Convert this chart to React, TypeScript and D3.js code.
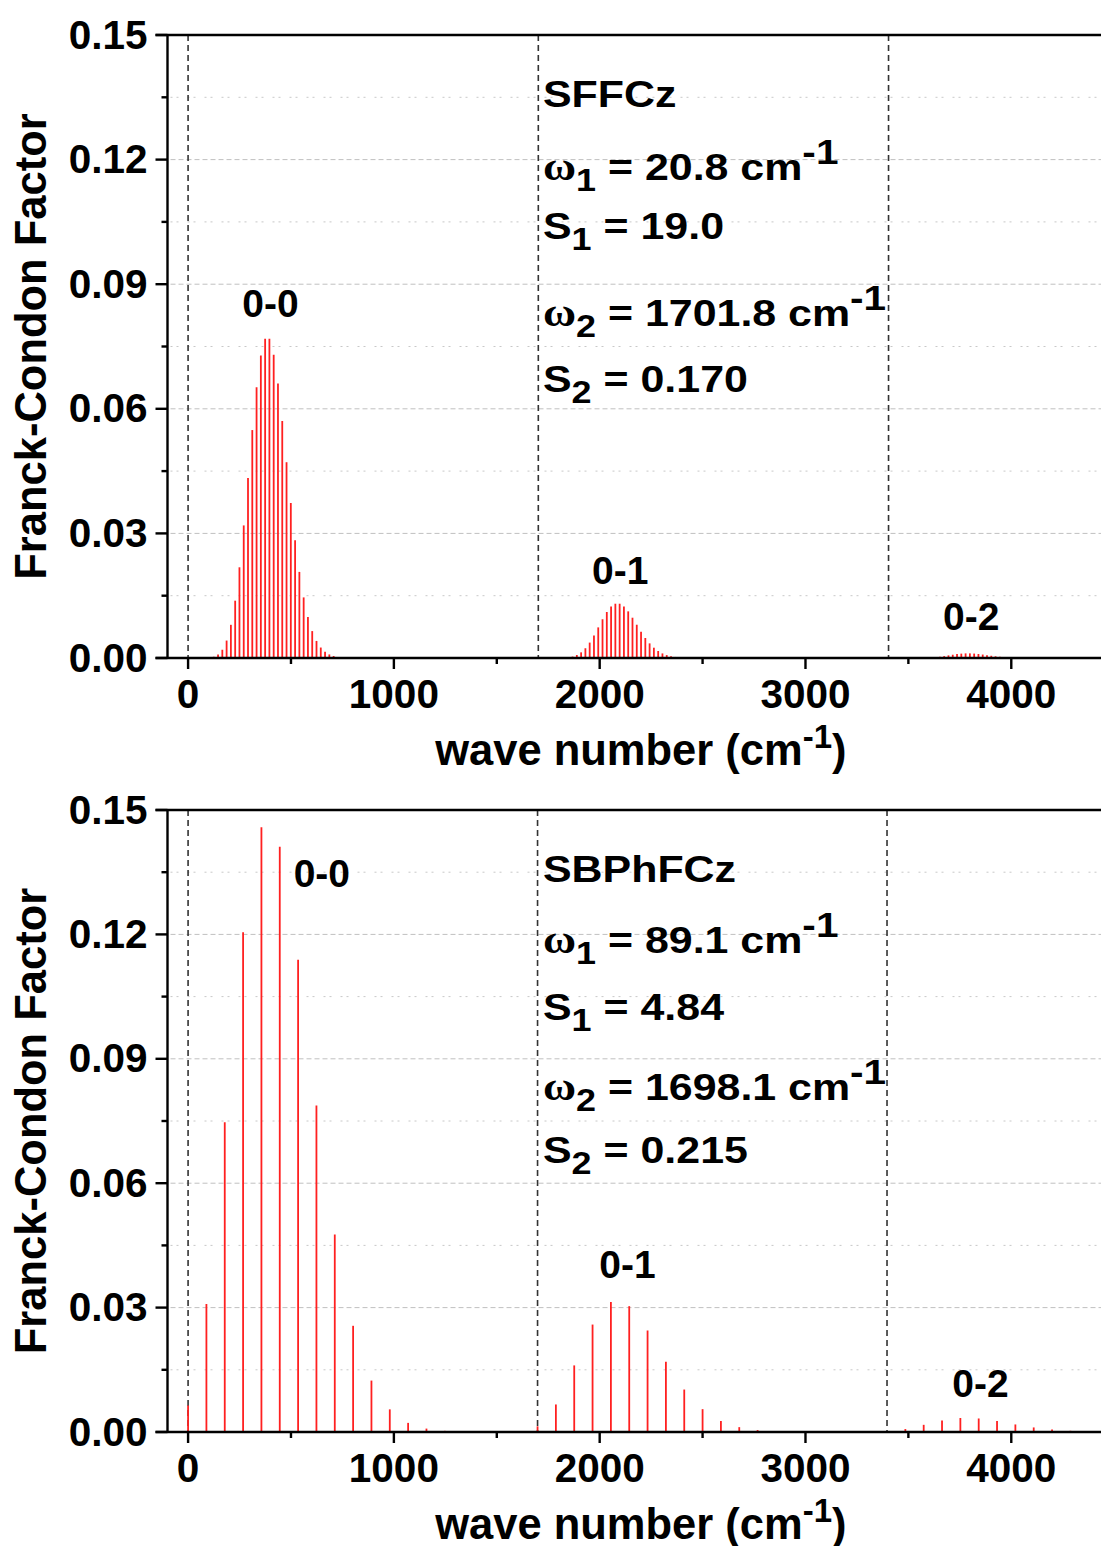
import React from 'react';
import * as d3 from 'd3';

// ---------- shared axis data ----------
const xMajorTicks = [0, 1000, 2000, 3000, 4000];
const xMinorTicks = [500, 1500, 2500, 3500];
const yMajorTicks = [0, 0.03, 0.06, 0.09, 0.12, 0.15];
const yTickLabels = ['0.00', '0.03', '0.06', '0.09', '0.12', '0.15'];
const yMinorTicks = [0.015, 0.045, 0.075, 0.105, 0.135];

// ---------- SFFCz ----------
const sffczOmega1 = 20.8;
const sffczOmega2 = 1701.8;
const sffczQuanta = [5, 6, 7, 8, 9, 10, 11, 12, 13, 14, 15, 16, 17, 18, 19, 20, 21, 22, 23, 24, 25, 26, 27, 28, 29, 30, 31, 32, 33, 34, 35];
const sffcz00 = [0.0001, 0.0003, 0.00084, 0.00199, 0.0042, 0.00799, 0.0138, 0.02184, 0.03192, 0.04332, 0.05488, 0.06517, 0.07283, 0.07688, 0.07688, 0.07303, 0.06608, 0.05707, 0.04714, 0.03732, 0.02836, 0.02073, 0.01459, 0.0099, 0.00648, 0.00411, 0.00252, 0.0015, 0.00086, 0.00048, 0.00026];
const sffcz01 = [0.00002, 0.00005, 0.00014, 0.00034, 0.00072, 0.00136, 0.00235, 0.00371, 0.00543, 0.00737, 0.00933, 0.01108, 0.01238, 0.01307, 0.01307, 0.01242, 0.01123, 0.0097, 0.00801, 0.00635, 0.00482, 0.00352, 0.00248, 0.00168, 0.0011, 0.0007, 0.00043, 0.00025, 0.00015, 0.00008, 0.00004];
const sffcz02 = [0.0, 0.0, 0.00001, 0.00003, 0.00006, 0.00012, 0.0002, 0.00032, 0.00046, 0.00063, 0.00079, 0.00094, 0.00105, 0.00111, 0.00111, 0.00106, 0.00096, 0.00083, 0.00068, 0.00054, 0.00041, 0.0003, 0.00021, 0.00014, 0.00009, 0.00006, 0.00004, 0.00002, 0.00001, 0.00001, 0.0];

// ---------- SBPhFCz ----------
const sbphOmega1 = 89.1;
const sbphOmega2 = 1698.1;
const sbphQuanta = [0, 1, 2, 3, 4, 5, 6, 7, 8, 9, 10, 11, 12, 13, 14];
const sbph00 = [0.00638, 0.03087, 0.0747, 0.12051, 0.14582, 0.14115, 0.11386, 0.07873, 0.04763, 0.02561, 0.0124, 0.00546, 0.0022, 0.00082, 0.00028];
const sbph01 = [0.00137, 0.00664, 0.01606, 0.02591, 0.03135, 0.03035, 0.02448, 0.01693, 0.01024, 0.00551, 0.00267, 0.00117, 0.00047, 0.00018, 0.00006];
const sbph02 = [0.00015, 0.00071, 0.00173, 0.00279, 0.00337, 0.00326, 0.00263, 0.00182, 0.0011, 0.00059, 0.00029, 0.00013, 0.00005, 0.00002, 0.00001];

const FONT = '"Liberation Sans", Arial, Helvetica, sans-serif';
const SERIF = '"Liberation Serif", "Times New Roman", serif';

type Panel = {
  top: number;
  bottom: number;
  name: string;
  w1: string;
  s1: string;
  w2: string;
  s2: string;
  omega1: number;
  omega2: number;
  quanta: number[];
  series: number[][];
  annBase: number[];
  peakLabels: { text: string; x: number; y: number }[];
};

const panels: Panel[] = [
  {
    top: 35,
    bottom: 658,
    name: 'SFFCz',
    w1: '20.8',
    s1: '19.0',
    w2: '1701.8',
    s2: '0.170',
    omega1: sffczOmega1,
    omega2: sffczOmega2,
    quanta: sffczQuanta,
    series: [sffcz00, sffcz01, sffcz02],
    annBase: [107, 180, 239, 326, 392],
    peakLabels: [
      { text: '0-0', x: 400, y: 0.0822 },
      { text: '0-1', x: 2100, y: 0.0178 },
      { text: '0-2', x: 3805, y: 0.0068 },
    ],
  },
  {
    top: 810,
    bottom: 1432,
    name: 'SBPhFCz',
    w1: '89.1',
    s1: '4.84',
    w2: '1698.1',
    s2: '0.215',
    omega1: sbphOmega1,
    omega2: sbphOmega2,
    quanta: sbphQuanta,
    series: [sbph00, sbph01, sbph02],
    annBase: [882, 953, 1020, 1100, 1163],
    peakLabels: [
      { text: '0-0', x: 650, y: 0.1315 },
      { text: '0-1', x: 2135, y: 0.0372 },
      { text: '0-2', x: 3850, y: 0.0085 },
    ],
  },
];

const x = d3.scaleLinear().domain([-100, 4500]).range([167.5, 167.5 + 4600 * 0.2058]);
const AXIS_LEFT = x(-100);
const W = 1101;
const AXW = 2.4;

function PanelView({ p }: { p: Panel }) {
  const y = d3.scaleLinear().domain([0, 0.15]).range([p.bottom, p.top]);
  const bars: { wn: number; v: number; key: string }[] = [];
  p.series.forEach((arr, m) => {
    arr.forEach((v, i) => {
      bars.push({ wn: p.quanta[i] * p.omega1 + m * p.omega2, v, key: `${m}-${i}` });
    });
  });
  const dashed = [0, p.omega2, 2 * p.omega2];
  const annX = 543;
  const sc = 1.16;
  return (
    <g>
      {/* grid */}
      {yMinorTicks.map((t) => (
        <line key={'gm' + t} x1={AXIS_LEFT + 3} x2={W} y1={y(t)} y2={y(t)} stroke="#c8c8c8" strokeWidth={1} strokeDasharray="2,4,2,9" />
      ))}
      {yMajorTicks.filter((t) => t > 0 && t < 0.15).map((t) => (
        <line key={'gM' + t} x1={AXIS_LEFT + 3} x2={W} y1={y(t)} y2={y(t)} stroke="#c0c0c0" strokeWidth={1} strokeDasharray="5,3" />
      ))}
      {/* dashed separators */}
      {dashed.map((d) => (
        <line key={'d' + d} x1={x(d)} x2={x(d)} y1={p.top} y2={p.bottom} stroke="#333" strokeWidth={1.6} strokeDasharray="6,4" />
      ))}
      {/* bars */}
      {bars.map((b) => (
        <line key={b.key} x1={x(b.wn)} x2={x(b.wn)} y1={y(0)} y2={y(b.v)} stroke="#ff2020" strokeWidth={1.8} />
      ))}
      {/* axes */}
      <line x1={AXIS_LEFT} x2={AXIS_LEFT} y1={p.top} y2={p.bottom + 1} stroke="#000" strokeWidth={AXW} />
      <line x1={AXIS_LEFT - 12} x2={W} y1={p.bottom} y2={p.bottom} stroke="#000" strokeWidth={AXW} />
      <line x1={AXIS_LEFT - 12} x2={W} y1={p.top} y2={p.top} stroke="#000" strokeWidth={AXW} />
      {yMajorTicks.map((t, i) => (
        <g key={'yt' + t}>
          <line x1={AXIS_LEFT - 12} x2={AXIS_LEFT} y1={y(t)} y2={y(t)} stroke="#000" strokeWidth={AXW} />
          <text x={AXIS_LEFT - 20} y={y(t) + 13.5} textAnchor="end" fontSize={40.5} fontWeight="bold" fontFamily={FONT}>
            {yTickLabels[i]}
          </text>
        </g>
      ))}
      {yMinorTicks.map((t) => (
        <line key={'ym' + t} x1={AXIS_LEFT - 6} x2={AXIS_LEFT} y1={y(t)} y2={y(t)} stroke="#000" strokeWidth={AXW} />
      ))}
      {xMajorTicks.map((t) => (
        <g key={'xt' + t}>
          <line x1={x(t)} x2={x(t)} y1={p.bottom} y2={p.bottom + 11} stroke="#000" strokeWidth={AXW} />
          <text x={x(t)} y={p.bottom + 50} textAnchor="middle" fontSize={40.5} fontWeight="bold" fontFamily={FONT}>
            {t}
          </text>
        </g>
      ))}
      {xMinorTicks.map((t) => (
        <line key={'xm' + t} x1={x(t)} x2={x(t)} y1={p.bottom} y2={p.bottom + 6} stroke="#000" strokeWidth={AXW} />
      ))}
      {/* axis titles */}
      <text
        transform={`translate(46, ${(p.top + p.bottom) / 2}) rotate(-90)`}
        textAnchor="middle"
        fontSize={43.5}
        fontWeight="bold"
        fontFamily={FONT}
      >
        Franck-Condon Factor
      </text>
      <text x={(AXIS_LEFT + x(4500)) / 2} y={p.bottom + 107} textAnchor="middle" fontSize={43.5} fontWeight="bold" fontFamily={FONT}>
        wave number (cm<tspan fontSize={33} dy={-17}>-1</tspan>
        <tspan dy={17}>)</tspan>
      </text>
      {/* peak labels */}
      {p.peakLabels.map((l) => (
        <text key={l.text} x={x(l.x)} y={y(l.y)} textAnchor="middle" fontSize={39} fontWeight="bold" fontFamily={FONT}>
          {l.text}
        </text>
      ))}
      {/* annotation */}
      <g transform={`translate(${annX},0) scale(${sc},1)`} fontFamily={FONT} fontWeight="bold" fontSize={37}>
        <text x={0} y={p.annBase[0]}>{p.name}</text>
        <text x={0} y={p.annBase[1]}>
          <tspan fontFamily={SERIF} fontSize={39}>ω</tspan>
          <tspan fontSize={31} dy={11}>1</tspan>
          <tspan dy={-11}>{` = ${p.w1} cm`}</tspan>
          <tspan fontSize={35} dy={-16}>-1</tspan>
        </text>
        <text x={0} y={p.annBase[2]}>
          S<tspan fontSize={31} dy={11}>1</tspan>
          <tspan dy={-11}>{` = ${p.s1}`}</tspan>
        </text>
        <text x={0} y={p.annBase[3]}>
          <tspan fontFamily={SERIF} fontSize={39}>ω</tspan>
          <tspan fontSize={31} dy={11}>2</tspan>
          <tspan dy={-11}>{` = ${p.w2} cm`}</tspan>
          <tspan fontSize={35} dy={-16}>-1</tspan>
        </text>
        <text x={0} y={p.annBase[4]}>
          S<tspan fontSize={31} dy={11}>2</tspan>
          <tspan dy={-11}>{` = ${p.s2}`}</tspan>
        </text>
      </g>
    </g>
  );
}

export default function App() {
  return (
    <svg
      width={1101}
      height={1546}
      viewBox="0 0 1101 1546"
      style={{ position: 'absolute', left: 0, top: 0, background: '#fff' }}
    >
      <rect x={0} y={0} width={1101} height={1546} fill="#fff" />
      {panels.map((p) => (
        <PanelView key={p.name} p={p} />
      ))}
    </svg>
  );
}
